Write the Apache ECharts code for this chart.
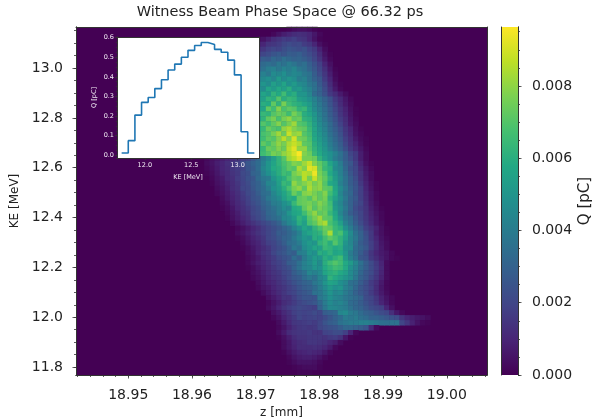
<!DOCTYPE html>
<html><head><meta charset="utf-8">
<style>html,body{margin:0;padding:0;background:#fff}#c{width:601px;height:419px}</style>
<script src="https://cdn.jsdelivr.net/npm/echarts@6/dist/echarts.min.js"></script>
</head><body><div id="c"></div>
<script>
const titleText = 'Witness Beam Phase Space @ 66.32 ps';
const zRange = [18.9418, 19.0063];
const keRange = [11.768, 13.165];
const qMax = 0.00963;
const zBinCount = 80;
const keBinCount = 70;
const qUnit = 1e-4;
const zTicks = [18.95, 18.96, 18.97, 18.98, 18.99, 19.00];
const keTicks = [11.8, 12.0, 12.2, 12.4, 12.6, 12.8, 13.0];
const qTicks = [0, 0.002, 0.004, 0.006, 0.008];
const insetKeTicks = [12.0, 12.5, 13.0];
const insetQTicks = [0, 0.1, 0.2, 0.3, 0.4, 0.5, 0.6];
const histKeStart = 11.75;
const histKeStep = 0.0715;
const histValues = [0.012,0.075,0.205,0.27,0.295,0.34,0.385,0.435,0.465,0.50,0.535,0.56,0.575,0.565,0.54,0.525,0.485,0.41,0.12,0.012];
// Each row, top to bottom: [first z-bin, then charge values in units of qUnit]
const qRows = [
[41,1,3,4,4,3,1],
[38,2,5,8,10,12,13,12,10,6,2],
[35,3,5,8,12,14,17,16,18,15,14,10,5,1],
[35,8,10,14,15,17,20,22,20,21,17,15,10,4,1],
[35,12,15,18,20,19,23,25,24,22,24,19,16,9,3],
[35,16,20,22,25,27,25,28,27,29,25,22,18,12,5,1],
[35,22,28,27,32,30,35,32,30,31,28,25,20,14,7,2],
[35,28,33,35,33,38,36,40,37,33,35,29,24,18,10,4],
[35,30,36,40,42,38,43,40,44,38,36,31,26,20,13,6,1],
[35,36,42,38,46,44,48,42,45,43,38,36,28,22,15,8,2],
[35,40,45,48,44,52,46,50,47,40,42,36,30,26,17,10,3],
[35,44,50,46,54,50,56,48,52,46,44,38,35,27,20,12,5,1],
[35,48,46,56,52,58,54,60,50,52,46,42,36,30,22,14,7,2],
[35,46,56,52,62,58,66,56,60,50,50,44,34,30,24,16,12,7,3],
[35,50,54,62,60,70,60,64,62,54,52,48,42,36,30,24,16,11,6,2],
[35,48,60,58,72,62,76,66,62,60,56,52,44,38,32,25,18,12,7,3],
[35,52,56,72,66,78,68,72,70,62,64,54,46,40,34,27,20,14,9,4,1],
[35,56,64,62,70,74,72,66,76,70,60,56,50,42,36,28,22,15,10,5,1],
[35,50,62,72,76,68,76,80,72,74,62,60,52,44,37,30,24,17,12,6,2],
[35,60,70,66,72,78,70,76,82,70,68,62,54,46,40,33,26,19,13,7,3],
[35,58,64,74,70,68,80,84,78,74,72,64,56,48,42,34,28,22,15,10,4,1],
[35,54,68,70,76,82,74,88,80,82,70,66,56,50,44,36,30,24,16,11,5,2],
[35,60,66,72,70,78,86,78,90,76,74,68,58,52,46,38,32,26,18,13,7,3,1],
[35,56,72,68,74,80,76,84,88,84,72,70,60,54,48,40,34,28,20,14,9,4,1],
[35,60,64,74,72,78,74,86,92,80,80,70,62,56,50,42,36,30,23,16,11,6,2],
[35,62,66,70,76,74,80,84,90,96,78,74,64,58,52,48,42,36,28,20,16,8,3],
[25,2,4,6,8,10,12,14,18,20,26,32,40,46,54,62,70,82,86,92,76,76,74,62,54,48,40,35,28,22,16,8,3],
[25,3,5,8,10,13,15,18,22,26,30,34,42,50,56,62,68,72,78,76,82,88,78,72,66,56,48,40,30,26,18,10,4,1],
[25,2,4,7,10,12,15,17,20,25,28,34,44,50,58,60,66,72,70,84,78,92,90,74,64,60,46,42,32,24,20,12,6,2],
[25,1,3,6,9,11,14,16,21,23,30,32,42,48,54,60,66,64,76,80,86,84,94,76,70,58,50,42,34,26,20,14,7,3],
[26,2,5,7,11,13,17,20,24,26,33,38,40,50,56,60,68,74,72,86,76,88,78,72,62,52,44,36,28,22,14,8,3],
[26,1,4,6,9,12,15,19,22,27,30,36,44,46,54,64,62,80,74,78,82,76,80,70,58,54,42,36,28,24,16,9,4,1],
[27,3,5,8,12,14,20,21,26,30,34,40,48,52,60,68,76,80,72,84,78,80,72,70,56,46,38,30,25,18,10,5,1],
[27,2,4,7,10,13,17,21,24,28,34,36,44,50,56,62,74,68,78,80,76,72,78,66,58,44,36,32,24,18,11,6,2],
[28,3,6,9,12,16,19,24,26,32,38,42,46,54,60,58,72,74,70,78,72,76,62,54,46,38,30,26,18,12,6,2],
[28,2,4,8,11,14,18,22,25,30,34,40,42,48,52,64,72,74,76,72,78,74,66,50,44,36,30,24,20,13,7,3],
[28,1,3,6,10,13,16,20,23,28,32,36,40,46,44,58,60,72,78,70,76,72,68,52,46,38,30,22,18,14,8,4,1],
[29,2,5,8,12,14,20,22,26,32,34,40,42,50,56,58,66,74,80,72,74,64,56,44,36,28,24,20,14,9,5,2],
[29,1,4,7,10,13,18,21,25,30,33,36,44,46,52,62,58,70,76,82,72,70,58,48,38,34,26,20,15,10,6,2],
[30,2,5,8,11,14,17,20,23,26,30,38,44,48,60,54,68,72,80,84,68,62,54,42,36,28,22,16,11,6,3],
[31,2,4,7,10,13,17,20,23,26,30,34,42,48,56,52,62,68,74,72,64,60,48,40,32,26,18,14,9,4,1],
[31,3,5,8,11,14,17,20,23,28,28,32,36,42,52,56,60,62,72,84,64,68,56,46,36,30,22,16,8,4,1],
[31,1,3,6,9,12,15,20,22,26,30,32,38,44,50,48,60,58,66,72,68,62,54,44,38,30,24,16,10,5,2],
[32,2,5,8,10,14,18,20,24,28,34,36,40,48,52,50,62,66,60,70,62,50,44,36,28,24,18,12,6,3],
[32,1,3,6,9,12,15,19,22,25,30,38,36,46,50,56,54,64,62,58,60,48,46,34,30,26,18,12,7,3],
[33,3,5,9,13,15,20,24,26,30,28,40,42,50,48,60,58,62,56,58,50,40,34,28,22,15,10,7,5,2],
[33,2,4,7,11,14,17,21,24,26,34,30,40,46,52,50,60,56,62,66,52,42,36,26,24,16,12,8,5,2,1],
[33,2,5,8,10,13,17,19,22,28,30,36,42,46,52,46,60,66,70,66,58,52,44,36,28,22,16,10,3],
[33,1,3,6,9,12,15,18,21,24,30,36,42,44,50,48,58,62,66,64,58,48,42,34,28,22,17,11,3],
[34,3,5,8,11,14,16,20,22,28,32,36,44,42,46,56,60,62,58,54,46,40,32,26,22,16,10,3],
[34,2,4,7,10,13,15,18,22,26,28,34,38,36,44,48,62,58,54,50,46,38,30,26,20,15,9,3],
[35,3,6,9,11,14,17,20,24,27,30,32,38,42,50,56,54,48,44,36,34,28,23,17,13,7,2],
[35,2,5,7,10,13,15,18,21,25,28,30,34,40,46,52,48,50,42,38,32,26,22,18,12,6,2],
[36,3,6,9,12,15,18,20,24,26,28,36,38,44,50,44,46,40,36,30,26,22,17,12,7,3],
[37,4,7,10,14,14,18,22,25,25,25,38,42,48,44,42,38,36,33,30,22,20,15,9,5,2],
[37,2,5,8,12,14,17,20,22,24,26,32,40,46,42,44,40,34,32,28,24,20,16,10,6,2],
[37,3,6,10,14,17,19,21,20,19,18,30,38,45,44,42,40,36,32,30,26,22,20,18,10,4],
[38,4,7,11,14,18,20,19,20,22,20,28,30,32,44,46,40,38,34,30,28,25,22,20,13,6,2],
[38,2,5,9,13,16,20,18,19,20,19,22,26,30,34,40,38,40,36,34,30,30,28,26,24,22,14,10,8,6,5,3],
[39,3,7,11,15,16,17,18,17,20,25,28,30,36,38,40,40,42,42,40,38,36,35,36,36,20,15,9,5,2,1],
[39,2,5,9,13,15,16,15,16,20,22,24,25,28,32,32,30,28,25,12,3],
[39,3,7,12,14,15,15,16,14,14,19,20,22,22,18,10,2],
[39,1,4,8,12,14,14,15,15,15,14,16,17,14,6,1],
[40,3,6,10,12,13,15,15,14,13,10,8,3],
[40,3,6,9,12,12,12,13,12,10,7,2],
[40,1,4,7,9,10,11,10,9,6,2],
[41,2,5,7,8,8,7,5,2],
[41,1,3,5,5,5,4,2],
[42,1,2,3,3,3,1],
[43,1,1,1]
];

const viridis = ['#440154','#482475','#414487','#355f8d','#2a788e','#21908d','#22a884','#44bf70','#7ad151','#bddf26','#fde725'];
const inkColor = '#333';
const fontName = '"DejaVu Sans"';

const cells = [];
qRows.forEach((row, r) => {
  row.slice(1).forEach((v, i) => cells.push([row[0] + i, r, +(v * qUnit).toFixed(5)]));
});
const range = (a, b, s) => { const o = []; for (let v = a; v <= b + s / 2; v += s) o.push(+v.toFixed(6)); return o; };
const zMinor = range(18.942, 19.006, 0.002);
const keMinor = range(11.8, 13.15, 0.05);
const qMinor = range(0, 0.0095, 0.0005);
const insetKeMinor = range(11.7, 13.2, 0.1);
const insetQMinor = range(0, 0.6, 0.025);

const histLine = [[histKeStart, histValues[0]]];
histValues.forEach((v, i) => histLine.push([histKeStart + (i + 1) * histKeStep, v]));

const hiddenCat = (n, gridIndex, extra) => Object.assign({
  type: 'category', gridIndex, show: false, data: Array.from({length: n}, (_, i) => i)
}, extra || {});
function valAxis(gridIndex, ext, position, ticks, tickLen, o) {
  o = o || {};
  return Object.assign({
    type: 'value', gridIndex, min: ext[0], max: ext[1], position, scale: true,
    splitLine: {show: false},
    axisLine: {show: o.line !== false, onZero: false, lineStyle: {color: inkColor, width: 1}},
    axisTick: {show: !!ticks, customValues: ticks || [], length: tickLen, lineStyle: {color: inkColor, width: 0.8}},
    axisLabel: o.label ? Object.assign({show: true, customValues: ticks, hideOverlap: false, showMinLabel: true, showMaxLabel: true}, o.label) : {show: false},
    z: o.z === undefined ? 3 : o.z
  }, o.extra || {});
}
const labelFont = {fontFamily: fontName, fontSize: 14, color: '#222'};
const insetFont = {fontFamily: fontName, fontSize: 6.5, color: '#f2edf5'};
const insetExt = {x: [11.70, 13.23], y: [-0.0135, 0.603]};

const option = {
  animation: false,
  backgroundColor: '#fff',
  title: {text: titleText, left: 275, top: 0, textAlign: 'center',
    textStyle: {fontFamily: fontName, fontSize: 14.5, fontWeight: 'normal', color: '#222'}},
  grid: [
    {left: 76, top: 27, width: 411, height: 348, show: true, backgroundColor: viridis[0], borderWidth: 0, z: 0, outerBoundsMode: 'none'},
    {left: 117, top: 37, width: 142, height: 121, show: true, backgroundColor: '#fff', borderWidth: 0, z: 5, outerBoundsMode: 'none'},
    {left: 501, top: 27, width: 17, height: 348, show: false, z: 0, outerBoundsMode: 'none'}
  ],
  xAxis: [
    hiddenCat(zBinCount, 0),
    valAxis(0, zRange, 'bottom', zTicks, 3.5, {
      label: Object.assign({margin: 13, formatter: v => v.toFixed(2)}, labelFont),
      extra: {name: 'z [mm]', nameLocation: 'middle', nameGap: 32,
        nameTextStyle: {fontFamily: fontName, fontSize: 12, color: '#222'}}}),
    valAxis(0, zRange, 'bottom', zMinor, 2),
    valAxis(0, zRange, 'top', null, 0),
    valAxis(1, insetExt.x, 'bottom', insetKeTicks, 2.2, {z: 7,
      label: Object.assign({margin: 3.5, formatter: v => v.toFixed(1)}, insetFont),
      extra: {name: 'KE [MeV]', nameLocation: 'middle', nameGap: 16, nameTextStyle: insetFont}}),
    valAxis(1, insetExt.x, 'bottom', insetKeMinor, 1.2, {z: 7}),
    valAxis(1, insetExt.x, 'top', null, 0, {z: 7}),
    hiddenCat(1, 2)
  ],
  yAxis: [
    hiddenCat(keBinCount, 0, {inverse: true}),
    valAxis(0, keRange, 'left', keTicks, 3.5, {
      label: Object.assign({margin: 13, formatter: v => v.toFixed(1)}, labelFont),
      extra: {name: 'KE [MeV]', nameLocation: 'middle', nameGap: 51,
        nameTextStyle: {fontFamily: fontName, fontSize: 12, color: '#222'}}}),
    valAxis(0, keRange, 'left', keMinor, 2),
    valAxis(0, keRange, 'right', null, 0),
    valAxis(1, insetExt.y, 'left', insetQTicks, 2.2, {z: 7,
      label: Object.assign({margin: 3, formatter: v => v.toFixed(1)}, insetFont),
      extra: {name: 'Q [pC]', nameLocation: 'middle', nameGap: 19, nameTextStyle: insetFont}}),
    valAxis(1, insetExt.y, 'left', insetQMinor, 1.2, {z: 7}),
    valAxis(1, insetExt.y, 'right', null, 0, {z: 7}),
    valAxis(2, [0, qMax], 'right', qTicks, 3.5, {
      label: Object.assign({margin: 14, formatter: v => v.toFixed(3)}, labelFont),
      extra: {name: 'Q [pC]', nameLocation: 'middle', nameGap: 60,
        nameTextStyle: {fontFamily: fontName, fontSize: 15, color: '#222'}}}),
    valAxis(2, [0, qMax], 'right', qMinor, 2),
    valAxis(2, [0, qMax], 'left', null, 0)
  ],
  visualMap: {show: false, type: 'continuous', min: 0, max: qMax, seriesIndex: 0, inRange: {color: viridis}},
  series: [
    {type: 'heatmap', xAxisIndex: 0, yAxisIndex: 0, data: cells, z: 2, progressive: 0, emphasis: {disabled: true}},
    {type: 'line', xAxisIndex: 4, yAxisIndex: 4, data: histLine, step: 'start', showSymbol: false, symbol: 'none',
      z: 8, lineStyle: {color: '#1f77b4', width: 1.6}},
    {type: 'bar', xAxisIndex: 7, yAxisIndex: 7, data: [qMax], barWidth: '100%', z: 2,
      itemStyle: {color: {type: 'linear', x: 0, y: 1, x2: 0, y2: 0,
        colorStops: viridis.map((c, i) => ({offset: i / (viridis.length - 1), color: c}))}}}
  ]
};
const chart = echarts.init(document.getElementById('c'), null, {renderer: 'canvas'});
chart.setOption(option);
</script></body></html>
